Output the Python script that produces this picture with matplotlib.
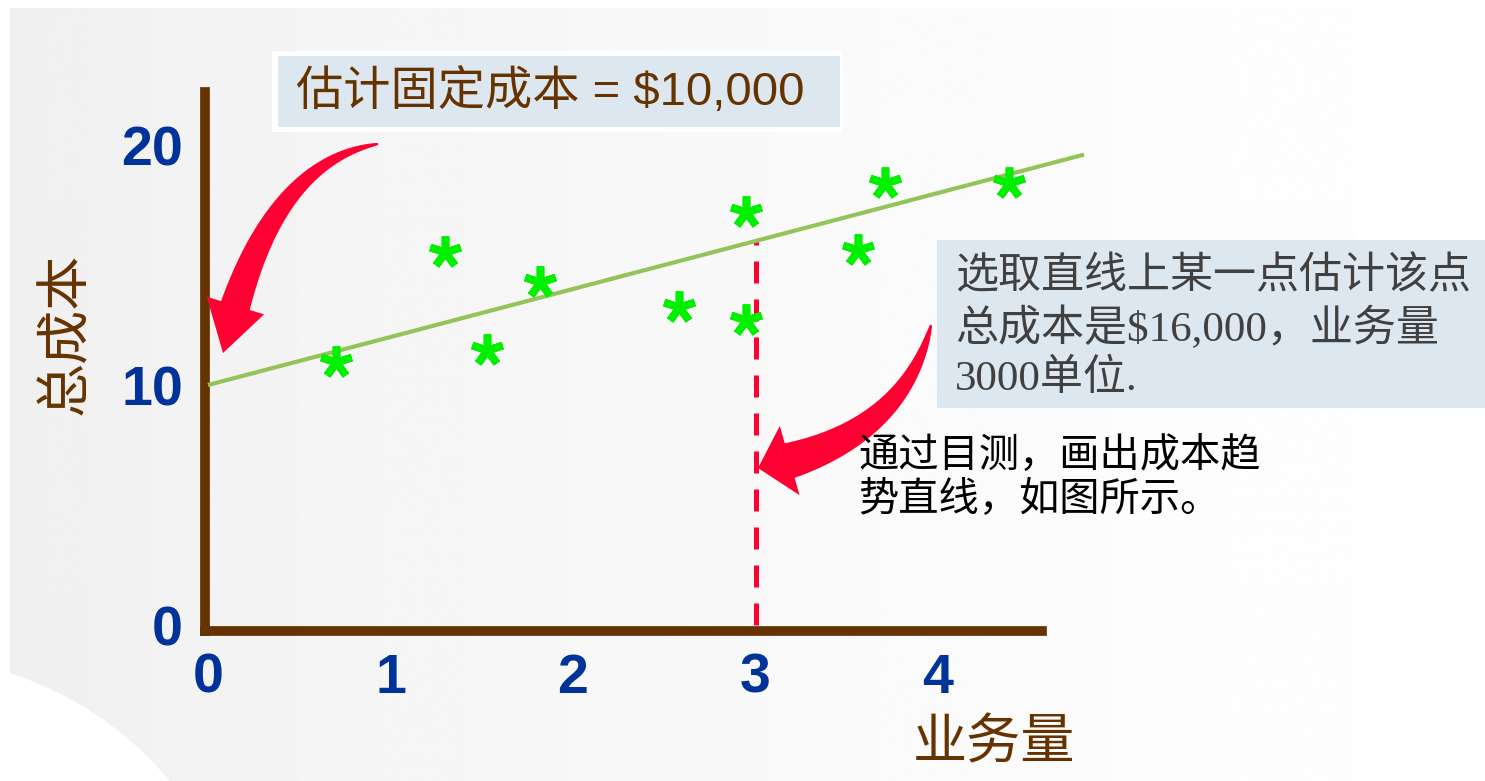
import numpy as np
import matplotlib
matplotlib.use("Agg")
import matplotlib.pyplot as plt
from matplotlib.patches import Rectangle, Circle, Polygon

W, H, DPI = 1485, 781, 100

# ---- data: 业务量 (千单位) vs 总成本 (千美元) ----
volume = [0.70, 1.30, 1.53, 1.82, 2.58, 2.95, 2.95, 3.56, 3.71, 4.39]
cost = [10.96, 15.54, 11.46, 14.29, 13.25, 17.21, 12.71, 15.63, 18.42, 18.42]
fixed_cost = 10.0        # 估计固定成本
unit_rate = 2.0          # 目测趋势线斜率
pick_volume = 3.0        # 选取的业务量
trend_end = 4.8
x_ticks = [0, 1, 2, 3, 4]
y_ticks = [0, 10, 20]
x_tick_labels = ["0", "1", "2", "3", "4"]
y_tick_labels = ["0", "10", "20"]

BROWN = "#663300"
BLUE = "#003399"
RED = "#ff0033"
CJK = ["Noto Sans CJK SC"]

plt.rcParams["font.family"] = ["Liberation Sans", "Noto Sans CJK SC", "DejaVu Sans"]
plt.rcParams["lines.scale_dashes"] = True

fig = plt.figure(figsize=(W / DPI, H / DPI), dpi=DPI)
fig.patch.set_facecolor("white")

# ---- soft grey slide background (pixel coordinates) ----
bg = fig.add_axes([0, 0, 1, 1], zorder=0)
bg.set_xlim(0, W)
bg.set_ylim(H, 0)
bg.axis("off")
xs = np.linspace(0, 1, 800)
shade = 0.937 + 0.063 * xs ** 0.7
bg.imshow(np.tile(shade, (2, 1)), cmap="gray", vmin=0, vmax=1,
          extent=(10, W, H, 8), aspect="auto", interpolation="bilinear")
bg.add_patch(Circle((-94, 999), 342, color="white", lw=0))

# ---- main chart ----
ax = fig.add_axes([205 / W, 1 - 630.5 / H, 837 / W, 538.5 / H], zorder=1)
ax.patch.set_visible(False)
ax.set_xlim(-3 / 182.5, 834 / 182.5)
ax.set_ylim(-5.5 / 24, 533 / 24)
for side in ("top", "right"):
    ax.spines[side].set_visible(False)
for side in ("left", "bottom"):
    ax.spines[side].set_color(BROWN)
    ax.spines[side].set_linewidth(7)

tick_font = dict(fontsize=40, fontweight="bold", color=BLUE, family="Liberation Sans")
ax.set_xticks(x_ticks, x_tick_labels, **tick_font)
ax.set_yticks(y_ticks, y_tick_labels, **tick_font)
ax.tick_params(length=0, pad=16)

tx = np.array([0.0, trend_end])
ax.plot(tx, fixed_cost + unit_rate * tx, color="#93c45a", lw=3,
        solid_capstyle="butt", clip_on=False, zorder=3)

# the chosen point on the line
pick_cost = fixed_cost + unit_rate * pick_volume
ax.plot([pick_volume, pick_volume], [0, pick_cost], color=RED, lw=3.6,
        dashes=(4.4, 3.2), zorder=2)

# observations
ax.plot(volume, cost, linestyle="none", marker=(5, 2, 0), markersize=23,
        markeredgewidth=5.5, color="#00f000", zorder=4)

ax.set_xlabel("业务量", fontsize=39, color=BROWN, family=CJK, fontweight="light")
ax.xaxis.set_label_coords(0.942, -0.209)
ax.xaxis.label.set_va("center")
ax.set_ylabel("总成本", fontsize=39, color=BROWN, family=CJK, fontweight="light")
ax.yaxis.set_label_coords(-0.167, 0.5506)
ax.yaxis.label.set_va("center")

# ---- call-outs (pixel coordinates) ----
ov = fig.add_axes([0, 0, 1, 1], zorder=3)
ov.set_xlim(0, W)
ov.set_ylim(H, 0)
ov.axis("off")
ov.patch.set_visible(False)


def curved_arrow(p0, p1, p2, w0, w1, head_len, head_w):
    p0, p1, p2 = (np.asarray(p, float) for p in (p0, p1, p2))
    t = np.linspace(0, 1, 400)[:, None]
    pts = (1 - t) ** 2 * p0 + 2 * t * (1 - t) * p1 + t ** 2 * p2
    tan = 2 * (1 - t) * (p1 - p0) + 2 * t * (p2 - p1)
    tan /= np.linalg.norm(tan, axis=1, keepdims=True)
    nrm = np.column_stack([-tan[:, 1], tan[:, 0]])
    seg = np.linalg.norm(np.diff(pts, axis=0), axis=1)
    s = np.concatenate([[0], np.cumsum(seg)])
    body_len = s[-1] - head_len
    keep = s <= body_len
    frac = (s[keep] / body_len)[:, None]
    w = w0 + (w1 - w0) * frac ** 0.8
    left = pts[keep] + nrm[keep] * w / 2
    right = pts[keep] - nrm[keep] * w / 2
    i = keep.sum() - 1
    base, nb = pts[i], nrm[i]
    poly = np.vstack([left, base + nb * head_w / 2, p2,
                      base - nb * head_w / 2, right[::-1]])
    ov.add_patch(Polygon(poly, closed=True, color=RED, lw=0))


curved_arrow((378, 144), (265, 163), (223, 353), 2, 30, 49, 60)
curved_arrow((931, 325), (902, 441), (758, 468), 2, 36, 32, 72)

# fixed-cost box
ov.add_patch(Rectangle((272, 51), 570, 81, color="white", lw=0))
ov.add_patch(Rectangle((278, 56), 562, 71, color="#dde7f0", lw=0))
ov.text(296, 92, "估计固定成本 = $10,000", fontsize=34, color=BROWN,
        family=["Liberation Sans", "Noto Sans CJK SC"], ha="left", va="center")

# chosen-point box
ov.add_patch(Rectangle((937, 240), W - 937, 168, color="#dde7f0", lw=0))
box_lines = ["选取直线上某一点估计该点", "总成本是$16,000，业务量", "3000单位."]
for k, line in enumerate(box_lines):
    ov.text(955, 277 + 51 * k, line, fontsize=31, color="#404040",
            family=["Liberation Serif", "Noto Sans CJK SC"], ha="left", va="center")

note_lines = ["通过目测，画出成本趋", "势直线，如图所示。"]
for k, line in enumerate(note_lines):
    ov.text(858, 455 + 44 * k, line, fontsize=29, color="black",
            family=CJK, ha="left", va="center")

fig.savefig("out.png", dpi=DPI, facecolor="white")
